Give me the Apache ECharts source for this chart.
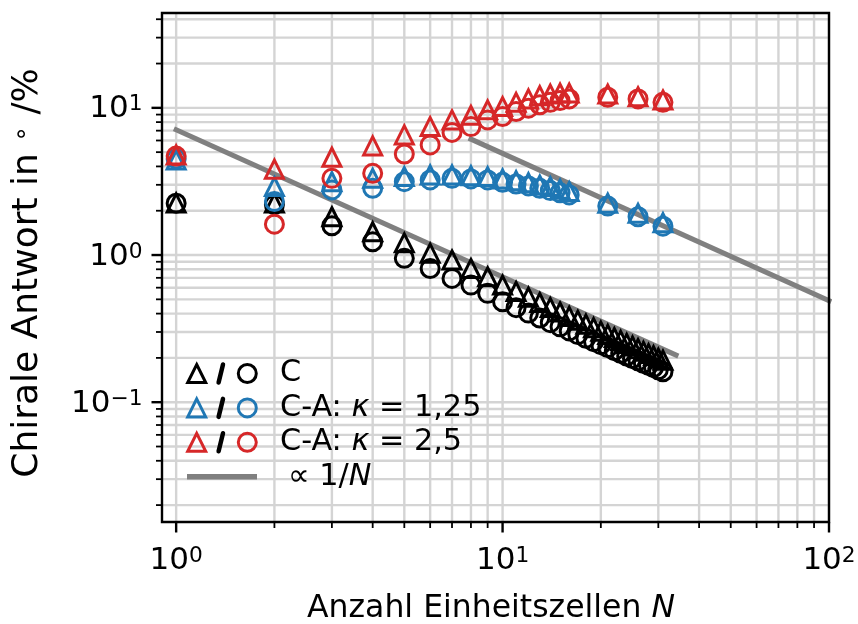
<!DOCTYPE html>
<html>
<head>
<meta charset="utf-8">
<script src="https://cdn.jsdelivr.net/npm/echarts@6/dist/echarts.min.js"></script>
<style>
html,body{margin:0;padding:0;background:#ffffff;}
#c{width:858px;height:624px;}
</style>
</head>
<body>
<div id="c"></div>
<script>
// ---------------- data ----------------
const nC = [1,2,3,4,5,6,7,8,9,10,11,12,13,14,15,16,17,18,19,20,21,22,23,24,25,26,27,28,29,30,31];
const cTri  = [2.26,2.26,1.82,1.44,1.21,1.03,0.925,0.81,0.712,0.625,0.566,0.517,0.476,0.44,0.41,0.383,0.36,0.339,0.321,0.304,0.289,0.275,0.263,0.251,0.241,0.231,0.222,0.214,0.207,0.199,0.193];
const cCirc = [2.25,2.2,1.58,1.23,0.95,0.81,0.694,0.625,0.549,0.481,0.439,0.403,0.373,0.347,0.325,0.305,0.288,0.272,0.258,0.246,0.235,0.224,0.215,0.206,0.198,0.191,0.184,0.178,0.172,0.166,0.161];

const nCA = [1,2,3,4,5,6,7,8,9,10,11,12,13,14,15,16,21,26,31];
const k125Tri  = [4.43,2.92,3.15,3.32,3.41,3.5,3.5,3.46,3.41,3.29,3.2,3.1,2.99,2.92,2.8,2.7,2.25,1.92,1.66];
const k125Circ = [4.5,2.31,2.77,2.84,3.15,3.24,3.32,3.29,3.24,3.12,3.04,2.95,2.84,2.74,2.65,2.56,2.15,1.82,1.57];
const k25Tri   = [4.79,3.83,4.62,5.51,6.55,7.46,8.28,8.89,9.69,10.2,10.9,11.5,12.1,12.4,12.6,12.6,12.4,11.9,11.3];
const k25Circ  = [4.7,1.62,3.32,3.59,4.86,5.6,6.81,7.46,8.28,8.73,9.44,9.95,10.5,10.9,11.2,11.5,11.8,11.5,10.9];

// reference lines  ∝ 1/N
const ref1N = [1, 34];
const ref1V = [7.1, 0.209];
const ref2N = [8, 100];
const ref2V = [6.13, 0.49];

// axes
const xRange = [0.905, 100];
const yRange = [0.01535, 44.1];
const xMajor = [1, 10, 100];
const xMajorExp = ['0', '1', '2'];
const xMinor = [2,3,4,5,6,7,8,9,20,30,40,50,60,70,80,90];
const yMajor = [0.1, 1, 10];
const yMajorExp = ['\u22121', '0', '1'];
const yMinor = [0.02,0.03,0.04,0.05,0.06,0.07,0.08,0.09,0.2,0.3,0.4,0.5,0.6,0.7,0.8,0.9,2,3,4,5,6,7,8,9,20,30,40];

const legendLabels = ['C', 'C-A: {i|\u03ba} = 1,25', 'C-A: {i|\u03ba} = 2,5', '\u221d 1/{i|N}'];

// ---------------- style ----------------
const FONT = 'DejaVu Sans';
const BLACK = '#000000', BLUE = '#1f77b4', RED = '#d62728', GRAY = '#808080', GRID = '#d4d4d4';
const MS = 18, MEW = 3;

const chart = echarts.init(document.getElementById('c'), null, {renderer: 'canvas'});
const pairs = (ns, vs) => ns.map((n, i) => [n, vs[i]]);

function scat(name, ns, vs, sym, color) {
  return {
    type: 'scatter', name: name, data: pairs(ns, vs),
    symbol: sym, symbolSize: MS, z: 3, silent: true,
    itemStyle: {color: 'rgba(0,0,0,0)', borderColor: color, borderWidth: MEW, opacity: 1}
  };
}
function refLine(ns, vs) {
  return {
    type: 'line', data: pairs(ns, vs), symbol: 'none', z: 2, silent: true,
    lineStyle: {color: GRAY, width: 5, cap: 'square'}
  };
}

const hiddenAxis = (r) => ({
  type: 'log', logBase: 10, min: r[0], max: r[1],
  axisLine: {show: false}, axisTick: {show: false}, axisLabel: {show: false},
  splitLine: {show: false}, minorTick: {show: false}, minorSplitLine: {show: false}
});

chart.setOption({
  animation: false,
  backgroundColor: '#ffffff',
  grid: {left: 162, top: 13, width: 667, height: 509, show: false},
  xAxis: hiddenAxis(xRange),
  yAxis: hiddenAxis(yRange),
  series: [
    refLine(ref1N, ref1V),
    refLine(ref2N, ref2V),
    scat('C tri', nC, cTri, 'triangle', BLACK),
    scat('C circ', nC, cCirc, 'circle', BLACK),
    scat('k125 tri', nCA, k125Tri, 'triangle', BLUE),
    scat('k125 circ', nCA, k125Circ, 'circle', BLUE),
    scat('k25 tri', nCA, k25Tri, 'triangle', RED),
    scat('k25 circ', nCA, k25Circ, 'circle', RED)
  ]
});

// ---------------- axes decorations via the chart's scales ----------------
const X = v => chart.convertToPixel({xAxisIndex: 0}, v);
const Y = v => chart.convertToPixel({yAxisIndex: 0}, v);
const L = X(xRange[0]), R = X(xRange[1]), T = Y(yRange[1]), B = Y(yRange[0]);

const els = [];
const gridLine = (x1, y1, x2, y2) => ({type: 'line', z: 0, silent: true,
  shape: {x1, y1, x2, y2}, style: {stroke: GRID, lineWidth: 2.4}});
const blk = (x1, y1, x2, y2, w) => ({type: 'line', z: 50, silent: true,
  shape: {x1, y1, x2, y2}, style: {stroke: BLACK, lineWidth: w}});

xMajor.concat(xMinor).forEach(v => { const p = X(v); els.push(gridLine(p, T, p, B)); });
yMajor.concat(yMinor).forEach(v => { const p = Y(v); els.push(gridLine(L, p, R, p)); });

// ticks
xMajor.forEach(v => { const p = X(v); els.push(blk(p, B, p, B + 10.5, 2.4)); });
xMinor.forEach(v => { const p = X(v); els.push(blk(p, B, p, B + 6, 1.8)); });
yMajor.forEach(v => { const p = Y(v); els.push(blk(L, p, L - 10.5, p, 2.4)); });
yMinor.forEach(v => { const p = Y(v); els.push(blk(L, p, L - 6, p, 1.8)); });

// frame
els.push({type: 'rect', z: 50, silent: true, shape: {x: L, y: T, width: R - L, height: B - T},
  style: {fill: 'none', stroke: BLACK, lineWidth: 2.4}});

const powRich = {
  b: {fontSize: 31, fontFamily: FONT, lineHeight: 31, verticalAlign: 'bottom', fill: BLACK},
  s: {fontSize: 21.7, fontFamily: FONT, lineHeight: 19.5, verticalAlign: 'top', fill: BLACK}
};
xMajor.forEach((v, i) => {
  els.push({type: 'text', z: 50, silent: true, x: X(v), y: 561,
    style: {text: '{b|10}{s|' + xMajorExp[i] + '}', rich: powRich, align: 'center', verticalAlign: 'middle'}});
});
yMajor.forEach((v, i) => {
  els.push({type: 'text', z: 50, silent: true, x: L - 19.5, y: Y(v) + 1.5,
    style: {text: '{b|10}{s|' + yMajorExp[i] + '}', rich: powRich, align: 'right', verticalAlign: 'middle'}});
});

// axis titles
els.push({type: 'text', z: 50, silent: true, x: 491, y: 609,
  style: {text: 'Anzahl Einheitszellen {i|N}', fontSize: 31.5, fontFamily: FONT, fill: BLACK,
    rich: {i: {fontSize: 31.5, fontFamily: FONT, fontStyle: 'italic', fill: BLACK}},
    align: 'center', verticalAlign: 'middle'}});
els.push({type: 'text', z: 50, silent: true, x: 28, y: 273, rotation: Math.PI / 2,
  style: {text: '{t|Chirale Antwort in }{s|\u2218}{t| /%}',
    rich: {t: {fontSize: 36, fontFamily: FONT, fill: BLACK, lineHeight: 36, verticalAlign: 'bottom'},
           s: {fontSize: 25, fontFamily: FONT, fill: BLACK, lineHeight: 22, verticalAlign: 'top'}},
    align: 'center', verticalAlign: 'middle'}});

// legend
const rowY = [373.5, 407.9, 442.3, 476.7];
const legColors = [BLACK, BLUE, RED];
legColors.forEach((c, i) => {
  const cy = rowY[i];
  const tx = 196.7, h = MS / 2;
  els.push({type: 'polygon', z: 50, silent: true,
    shape: {points: [[tx, cy - h], [tx + h, cy + h], [tx - h, cy + h]]},
    style: {fill: 'none', stroke: c, lineWidth: MEW}});
  els.push({type: 'line', z: 50, silent: true,
    shape: {x1: 218.6, y1: cy + 9, x2: 223.0, y2: cy - 9},
    style: {stroke: BLACK, lineWidth: 4.5, lineCap: 'round'}});
  els.push({type: 'circle', z: 50, silent: true, shape: {cx: 247.3, cy: cy, r: h},
    style: {fill: 'none', stroke: c, lineWidth: MEW}});
});
els.push({type: 'line', z: 50, silent: true, shape: {x1: 187, y1: rowY[3], x2: 257, y2: rowY[3]},
  style: {stroke: GRAY, lineWidth: 5.5}});
const legRich = {i: {fontSize: 30.3, fontFamily: FONT, fontStyle: 'italic', fill: BLACK}};
legendLabels.forEach((t, i) => {
  els.push({type: 'text', z: 50, silent: true, x: i === 3 ? 288 : 280, y: rowY[i],
    style: {text: t, fontSize: 30.3, fontFamily: FONT, fill: BLACK, rich: legRich,
      align: 'left', verticalAlign: 'middle'}});
});

chart.setOption({graphic: {elements: els}});
</script>
</body>
</html>
